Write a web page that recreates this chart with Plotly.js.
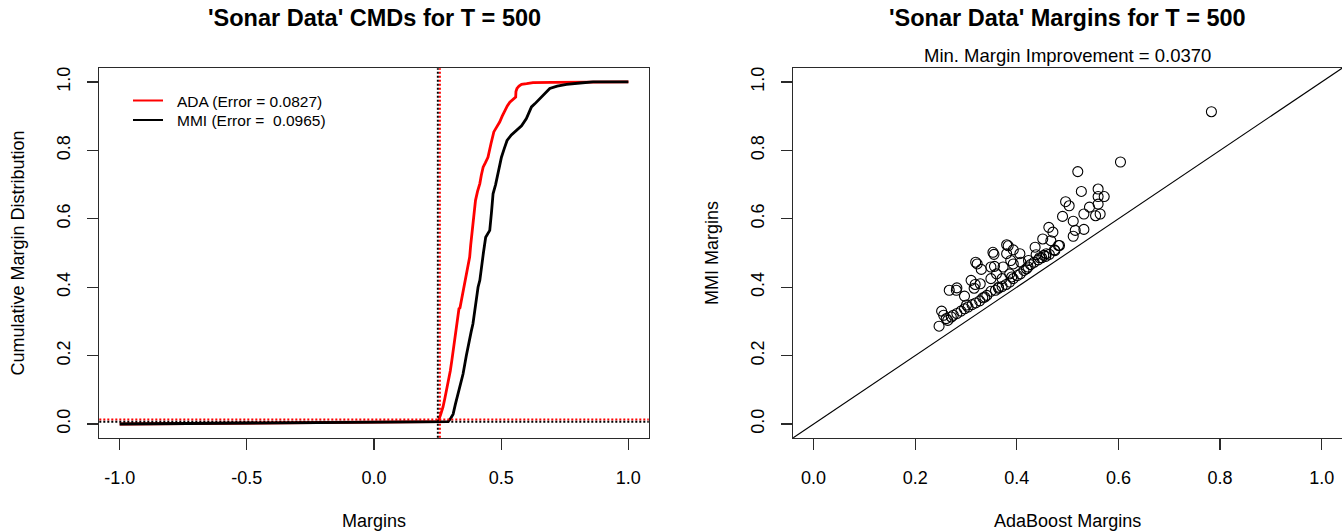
<!DOCTYPE html>
<html>
<head>
<meta charset="utf-8">
<script src="https://cdn.plot.ly/plotly-3.0.1.min.js"></script>
<style>
html, body { margin: 0; padding: 0; background: #fff; }
#chart { width: 1342px; height: 531px; }
</style>
</head>
<body>
<div id="chart"></div>
<script>
// ---- Data ----
// Left panel: cumulative margin distributions (margin, cumulative fraction)
var adaMargin = [-1.0, 0.252, 0.262, 0.271, 0.278, 0.285, 0.293, 0.300, 0.306, 0.311, 0.316, 0.321, 0.328, 0.334, 0.338, 0.341, 0.348, 0.355, 0.361, 0.369, 0.376, 0.380, 0.385, 0.392, 0.399, 0.407, 0.416, 0.422, 0.429, 0.438, 0.448, 0.460, 0.471, 0.482, 0.494, 0.504, 0.514, 0.524, 0.534, 0.546, 0.557, 0.558, 0.562, 0.570, 0.580, 0.600, 0.625, 0.700, 0.800, 0.914, 1.0];
var adaCDF    = [0.0, 0.007, 0.028, 0.049, 0.073, 0.097, 0.127, 0.156, 0.186, 0.215, 0.245, 0.273, 0.305, 0.337, 0.340, 0.352, 0.381, 0.410, 0.439, 0.470, 0.488, 0.522, 0.556, 0.605, 0.654, 0.680, 0.703, 0.728, 0.751, 0.764, 0.780, 0.820, 0.854, 0.868, 0.883, 0.900, 0.917, 0.930, 0.941, 0.948, 0.956, 0.972, 0.981, 0.988, 0.993, 0.995, 0.998, 0.999, 0.999, 1.0, 1.0];
var mmiMargin = [-1.0, 0.291, 0.300, 0.311, 0.320, 0.330, 0.340, 0.350, 0.363, 0.376, 0.382, 0.389, 0.399, 0.409, 0.416, 0.422, 0.430, 0.439, 0.447, 0.455, 0.462, 0.468, 0.478, 0.488, 0.495, 0.501, 0.512, 0.523, 0.540, 0.560, 0.580, 0.599, 0.609, 0.619, 0.632, 0.645, 0.668, 0.691, 0.720, 0.757, 0.810, 0.861, 1.0];
var mmiCDF    = [0.0, 0.007, 0.015, 0.029, 0.058, 0.088, 0.117, 0.146, 0.200, 0.254, 0.270, 0.293, 0.350, 0.400, 0.420, 0.449, 0.500, 0.546, 0.556, 0.566, 0.620, 0.673, 0.700, 0.732, 0.760, 0.780, 0.805, 0.829, 0.845, 0.859, 0.872, 0.893, 0.910, 0.927, 0.936, 0.946, 0.965, 0.981, 0.988, 0.993, 0.997, 1.0, 1.0];

// reference lines on the left panel
var minMarginLineMMI = 0.251;   // black dotted vertical
var minMarginLineADA = 0.259;   // red dotted vertical
var errLevelADA = 0.013;        // red dotted horizontal
var errLevelMMI = 0.007;        // black dotted horizontal

// Right panel: per-example margins (AdaBoost, MMI)
var adaBoostMargins = [0.783, 0.604, 0.520, 0.527, 0.560, 0.560, 0.572, 0.543, 0.560, 0.496, 0.503, 0.532, 0.555, 0.564, 0.490, 0.511, 0.515, 0.532, 0.511, 0.463, 0.471, 0.451, 0.467, 0.482, 0.474, 0.436, 0.380, 0.383, 0.393, 0.406, 0.380, 0.353, 0.355, 0.423, 0.438, 0.458, 0.445, 0.319, 0.322, 0.330, 0.349, 0.356, 0.373, 0.393, 0.408, 0.388, 0.349, 0.371, 0.310, 0.318, 0.328, 0.316, 0.282, 0.267, 0.281, 0.297, 0.252, 0.256, 0.247, 0.264, 0.275, 0.261,
  0.271, 0.282, 0.290, 0.297, 0.304, 0.312, 0.319, 0.327, 0.333, 0.341, 0.349, 0.358, 0.364, 0.371, 0.379, 0.386, 0.393, 0.401, 0.407, 0.414, 0.422, 0.427, 0.434, 0.442, 0.449, 0.457, 0.464, 0.475, 0.484,
  0.301, 0.337, 0.364, 0.390, 0.419, 0.453, 0.360, 0.386];
var mmiMargins = [0.913, 0.766, 0.738, 0.680, 0.687, 0.665, 0.665, 0.634, 0.643, 0.650, 0.638, 0.614, 0.609, 0.614, 0.607, 0.593, 0.566, 0.569, 0.549, 0.575, 0.561, 0.541, 0.536, 0.522, 0.509, 0.517, 0.524, 0.521, 0.509, 0.498, 0.498, 0.502, 0.496, 0.478, 0.495, 0.498, 0.486, 0.473, 0.468, 0.452, 0.459, 0.461, 0.459, 0.468, 0.473, 0.478, 0.425, 0.425, 0.420, 0.408, 0.410, 0.397, 0.398, 0.391, 0.391, 0.374, 0.330, 0.318, 0.286, 0.303, 0.318, 0.308,
  0.313, 0.323, 0.330, 0.337, 0.342, 0.349, 0.354, 0.360, 0.369, 0.376, 0.388, 0.391, 0.397, 0.402, 0.408, 0.415, 0.425, 0.434, 0.439, 0.449, 0.459, 0.466, 0.473, 0.480, 0.486, 0.490, 0.496, 0.507, 0.522,
  0.348, 0.371, 0.400, 0.430, 0.454, 0.493, 0.439, 0.439];

// tick labels
var cmdTickVals = [-1, -0.5, 0, 0.5, 1];
var cmdTickText = ['-1.0', '-0.5', '0.0', '0.5', '1.0'];
var unitTickVals = [0, 0.2, 0.4, 0.6, 0.8, 1.0];
var unitTickText = ['0.0', '0.2', '0.4', '0.6', '0.8', '1.0'];

var legendADA = 'ADA (Error = 0.0827)';
var legendMMI = 'MMI (Error =  0.0965)';
var minMarginImprovement = '0.0370';

// ---- Plot ----
var FONT = 'Liberation Sans, Arial, Helvetica, sans-serif';
var BOX = '#2a2a2a';
var W = 1342, H = 531;

var traces = [
  { x: adaMargin, y: adaCDF, type: 'scatter', mode: 'lines', name: legendADA,
    line: { color: '#ff0000', width: 2.8 }, xaxis: 'x', yaxis: 'y' },
  { x: mmiMargin, y: mmiCDF, type: 'scatter', mode: 'lines', name: legendMMI,
    line: { color: '#000000', width: 2.8 }, xaxis: 'x', yaxis: 'y' },
  { x: adaBoostMargins, y: mmiMargins, type: 'scatter', mode: 'markers',
    marker: { symbol: 'circle-open', size: 10, color: '#000', line: { width: 1.1, color: '#000' } },
    xaxis: 'x2', yaxis: 'y2' }
];

function axisBase() {
  return {
    showgrid: false, zeroline: false, showline: true, mirror: true,
    linecolor: BOX, linewidth: 1.2,
    ticks: 'outside', ticklen: 11, tickwidth: 1.2, tickcolor: BOX,
    tickfont: { family: FONT, size: 18, color: '#000' },
    fixedrange: true
  };
}

var xa = Object.assign(axisBase(), {
  domain: [0.0740, 0.4834], range: [-1.08, 1.08], anchor: 'y',
  tickmode: 'array', tickvals: cmdTickVals, ticktext: cmdTickText,
  ticklabelstandoff: 12,
  title: { text: 'Margins', font: { family: FONT, size: 18, color: '#000' }, standoff: 28 }
});
var ya = Object.assign(axisBase(), {
  domain: [0.1757, 0.8714], range: [-0.04, 1.04], anchor: 'x',
  tickmode: 'array', tickvals: unitTickVals, ticktext: unitTickText, tickangle: -90,
  ticklabelstandoff: 10,
  title: { text: 'Cumulative Margin Distribution', font: { family: FONT, size: 18, color: '#000' }, standoff: 24 }
});
var xa2 = Object.assign(axisBase(), {
  domain: [0.5911, 1.0], range: [-0.04, 1.04], anchor: 'y2',
  tickmode: 'array', tickvals: unitTickVals, ticktext: unitTickText,
  ticklabelstandoff: 12,
  title: { text: 'AdaBoost Margins', font: { family: FONT, size: 18, color: '#000' }, standoff: 28 }
});
var ya2 = Object.assign(axisBase(), {
  domain: [0.1757, 0.8714], range: [-0.04, 1.04], anchor: 'x2',
  tickmode: 'array', tickvals: unitTickVals, ticktext: unitTickText, tickangle: -90,
  ticklabelstandoff: 10,
  title: { text: 'MMI Margins', font: { family: FONT, size: 18, color: '#000' }, standoff: 24 }
});

var dotBlack = { color: '#000', width: 2, dash: '2px,2px' };
var dotRed = { color: '#ff0000', width: 2, dash: '2px,2px' };

// legend (R-style, no box): sample line + label, placed in paper coordinates
var legendItems = [
  { label: legendADA, color: '#ff0000', yPx: 100.5 },
  { label: legendMMI, color: '#000000', yPx: 120 }
];
var legendShapes = legendItems.map(function (it) {
  return { type: 'line', xref: 'paper', yref: 'paper', x0: 133 / W, x1: 163 / W,
    y0: 1 - it.yPx / H, y1: 1 - it.yPx / H, line: { color: it.color, width: 2 } };
});
var legendAnn = legendItems.map(function (it) {
  return { text: it.label, xref: 'paper', yref: 'paper', x: 175 / W, y: 1 - (it.yPx + 1) / H,
    xanchor: 'left', yanchor: 'middle', showarrow: false,
    font: { family: FONT, size: 15.5, color: '#000' } };
});

var layout = {
  width: W, height: H,
  margin: { l: 0, r: 0, t: 0, b: 0, autoexpand: false },
  paper_bgcolor: '#fff', plot_bgcolor: '#fff',
  font: { family: FONT, color: '#000' },
  showlegend: false,
  xaxis: xa, yaxis: ya, xaxis2: xa2, yaxis2: ya2,
  shapes: [
    { type: 'line', xref: 'x', yref: 'y domain', x0: minMarginLineMMI, x1: minMarginLineMMI, y0: 0, y1: 1, line: dotBlack },
    { type: 'line', xref: 'x', yref: 'y domain', x0: minMarginLineADA, x1: minMarginLineADA, y0: 0, y1: 1, line: dotRed },
    { type: 'line', xref: 'x domain', yref: 'y', x0: 0, x1: 1, y0: errLevelADA, y1: errLevelADA, line: dotRed },
    { type: 'line', xref: 'x domain', yref: 'y', x0: 0, x1: 1, y0: errLevelMMI, y1: errLevelMMI, line: dotBlack },
    // y = x reference line across the right panel
    { type: 'line', xref: 'x2 domain', yref: 'y2 domain', x0: 0, y0: 0, x1: 1, y1: 1, line: { color: '#000', width: 1.1 } }
  ].concat(legendShapes),
  annotations: [
    { text: "<b>'Sonar Data' CMDs for T = 500</b>", xref: 'x domain', yref: 'paper', x: 0.5, y: 1 - 18 / H,
      xanchor: 'center', yanchor: 'middle', showarrow: false, font: { family: FONT, size: 23.5, color: '#000' } },
    { text: "<b>'Sonar Data' Margins for T = 500</b>", xref: 'x2 domain', yref: 'paper', x: 0.5, y: 1 - 18 / H,
      xanchor: 'center', yanchor: 'middle', showarrow: false, font: { family: FONT, size: 23.5, color: '#000' } },
    { text: 'Min. Margin Improvement = ' + minMarginImprovement, xref: 'x2 domain', yref: 'paper', x: 0.5, y: 1 - 56 / H,
      xanchor: 'center', yanchor: 'middle', showarrow: false, font: { family: FONT, size: 18.5, color: '#000' } }
  ].concat(legendAnn)
};

Plotly.newPlot('chart', traces, layout, { displayModeBar: false, staticPlot: true });
</script>
</body>
</html>
